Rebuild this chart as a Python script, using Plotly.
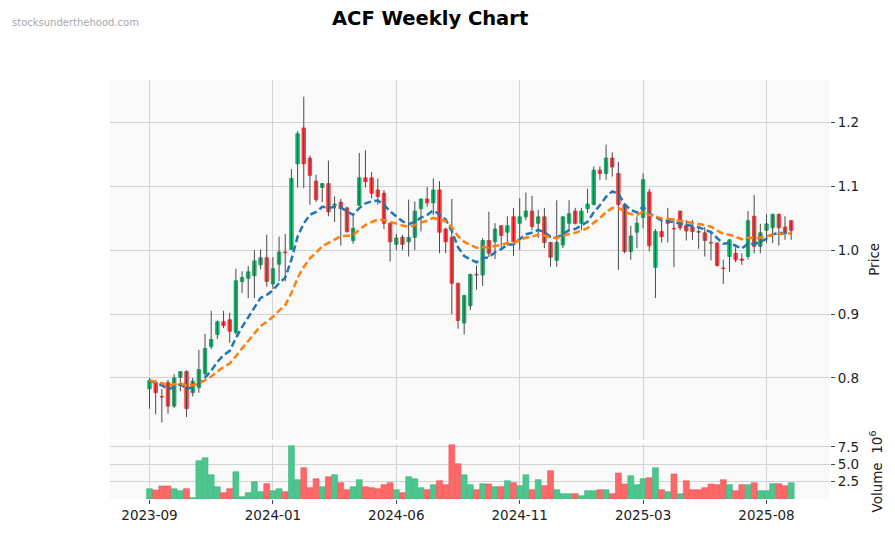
import plotly.graph_objects as go
import pandas as pd

# ---------------- data ----------------
dates = pd.date_range("2023-09-11", periods=105, freq="W-MON")

opens = [0.783, 0.793, 0.771, 0.793, 0.756, 0.801, 0.810, 0.777, 0.785, 0.807,
         0.849, 0.868, 0.888, 0.891, 0.871, 0.951, 0.956, 0.960, 0.977, 0.988,
         0.947, 0.978, 0.997, 1.001, 1.135, 1.191, 1.144, 1.108, 1.098, 1.104,
         1.070, 1.075, 1.066, 1.015, 1.070, 1.113, 1.113, 1.094, 1.089, 1.042,
         1.009, 1.020, 1.013, 1.020, 1.065, 1.080, 1.074, 1.094, 1.033, 1.020,
         0.948, 0.886, 0.913, 0.962, 0.961, 1.015, 1.013, 1.038, 1.028, 1.052,
         1.042, 1.052, 1.061, 1.042, 1.052, 1.012, 0.984, 1.008, 1.042, 1.061,
         1.042, 1.065, 1.071, 1.125, 1.120, 1.144, 1.120, 1.071, 0.998, 1.028,
         1.051, 1.091, 0.973, 1.029, 1.047, 1.034, 1.061, 1.039, 1.036, 1.029,
         1.027, 1.012, 1.011, 0.972, 0.990, 0.995, 0.986, 0.990, 1.053, 1.006,
         1.031, 1.035, 1.056, 1.036, 1.046]
highs = [0.800, 0.797, 0.783, 0.797, 0.806, 0.810, 0.812, 0.800, 0.844, 0.869,
         0.905, 0.890, 0.905, 0.902, 0.971, 0.967, 0.975, 1.000, 1.001, 1.024,
         0.989, 1.021, 1.025, 1.127, 1.186, 1.240, 1.148, 1.118, 1.105, 1.140,
         1.084, 1.080, 1.068, 1.058, 1.152, 1.156, 1.122, 1.112, 1.094, 1.043,
         1.025, 1.024, 1.079, 1.076, 1.080, 1.099, 1.112, 1.108, 1.035, 1.080,
         0.949, 0.929, 0.963, 0.976, 1.019, 1.060, 1.042, 1.039, 1.053, 1.066,
         1.081, 1.090, 1.085, 1.063, 1.066, 1.013, 1.078, 1.053, 1.078, 1.066,
         1.066, 1.096, 1.131, 1.131, 1.165, 1.153, 1.138, 1.073, 1.038, 1.053,
         1.120, 1.096, 1.033, 1.047, 1.066, 1.050, 1.061, 1.047, 1.047, 1.036,
         1.036, 1.027, 1.012, 0.985, 1.017, 1.009, 0.995, 1.061, 1.086, 1.041,
         1.056, 1.057, 1.057, 1.053, 1.047]
lows = [0.752, 0.743, 0.730, 0.744, 0.753, 0.779, 0.739, 0.771, 0.777, 0.803,
        0.845, 0.861, 0.878, 0.855, 0.868, 0.933, 0.925, 0.925, 0.970, 0.943,
        0.939, 0.951, 0.951, 1.001, 1.098, 1.097, 1.071, 1.075, 1.075, 1.053,
        1.044, 1.007, 1.027, 1.010, 1.070, 1.098, 1.081, 1.071, 1.033, 0.982,
        1.000, 1.000, 0.990, 1.000, 1.029, 1.068, 1.055, 0.995, 0.995, 0.900,
        0.877, 0.868, 0.906, 0.938, 0.944, 0.989, 0.986, 1.004, 1.007, 0.991,
        1.000, 1.047, 1.031, 1.019, 1.003, 0.974, 0.974, 1.003, 1.032, 1.040,
        1.031, 1.058, 1.071, 1.110, 1.110, 1.115, 0.969, 0.995, 0.985, 1.003,
        1.034, 0.998, 0.925, 1.012, 1.012, 0.973, 1.031, 1.015, 1.016, 1.002,
        0.990, 0.984, 0.974, 0.947, 0.966, 0.981, 0.977, 0.985, 0.995, 0.995,
        1.011, 1.011, 1.007, 1.016, 1.016]
closes = [0.796, 0.777, 0.770, 0.756, 0.800, 0.810, 0.752, 0.795, 0.813, 0.846,
          0.860, 0.888, 0.882, 0.873, 0.952, 0.957, 0.966, 0.983, 0.988, 0.951,
          0.971, 0.997, 0.996, 1.112, 1.182, 1.135, 1.117, 1.079, 1.104, 1.060,
          1.072, 1.065, 1.029, 1.034, 1.113, 1.107, 1.089, 1.084, 1.042, 1.013,
          1.019, 1.009, 1.020, 1.061, 1.080, 1.074, 1.094, 1.028, 1.013, 0.948,
          0.890, 0.929, 0.962, 0.961, 1.015, 0.995, 1.033, 1.023, 1.038, 1.013,
          1.052, 1.061, 1.037, 1.052, 1.012, 0.989, 1.012, 1.052, 1.057, 1.042,
          1.061, 1.072, 1.125, 1.120, 1.144, 1.130, 1.071, 0.998, 1.022, 1.042,
          1.110, 1.007, 1.029, 1.021, 1.042, 1.033, 1.035, 1.030, 1.029, 1.028,
          1.015, 1.011, 0.976, 0.971, 1.016, 0.985, 0.984, 1.046, 1.006, 1.027,
          1.041, 1.056, 1.035, 1.029, 1.031]
volume_millions = [1.48, 1.29, 1.87, 1.87, 1.48, 1.20, 1.48, 0.19, 5.50, 5.93,
                   3.49, 1.77, 0.91, 1.48, 3.92, 0.33, 0.91, 2.49, 1.05, 2.20,
                   1.20, 1.48, 1.05, 7.66, 2.78, 4.50, 1.63, 2.92, 1.77, 3.20,
                   3.49, 2.34, 1.34, 1.77, 2.78, 1.77, 1.63, 1.48, 2.06, 2.34,
                   1.34, 0.91, 3.20, 2.92, 1.63, 1.34, 2.06, 2.63, 2.06, 7.80,
                   5.07, 3.49, 2.06, 1.34, 2.20, 2.15, 1.77, 1.77, 2.63, 2.34,
                   1.91, 3.49, 1.34, 2.78, 1.91, 4.07, 1.34, 0.77, 0.77, 0.77,
                   0.48, 1.20, 1.20, 1.34, 1.34, 0.77, 3.73, 2.15, 3.35, 2.06,
                   2.92, 3.06, 4.50, 1.34, 1.05, 3.59, 0.77, 2.63, 1.34, 1.34,
                   1.63, 2.15, 2.06, 2.78, 2.06, 1.20, 2.06, 2.06, 2.34, 1.20,
                   1.20, 2.20, 2.20, 1.91, 2.34]

price_ticks = [0.8, 0.9, 1.0, 1.1, 1.2]
volume_ticks = [2.5, 5.0, 7.5]
date_tick_step = 20

# ---------------- derived ----------------
idx = list(range(len(closes)))
ema_fast = pd.Series(closes).ewm(span=10, adjust=False).mean()
ema_slow = pd.Series(closes).ewm(span=20, adjust=False).mean()

tick_idx = idx[::date_tick_step]
tick_text = [dates[i].strftime("%Y-%m") for i in tick_idx]

# ---------------- geometry (page pixels; the html body adds an 8px margin) ----------------
OFF = 8
W, H = 895 - OFF, 533 - OFF
PL, PR, PT, PB = 110, 830, 80, 499.5   # plot area in page pixels


def paper_x(px):
    return (px - PL) / (PR - PL)


def paper_y(py):
    return (PB - py) / (PB - PT)


UP = "#12b46c"
DN = "#ff3b3f"
VUP = "#4dc58e"
VDN = "#ff6868"
GRID = "#d3d3d3"
FONT = "DejaVu Sans"

fig = go.Figure()

# wicks
wx, wy = [], []
for i, (h, l) in enumerate(zip(highs, lows)):
    wx += [i, i, None]
    wy += [l, h, None]
fig.add_trace(go.Scatter(x=wx, y=wy, mode="lines",
                         line=dict(color="#4a4a4a", width=1),
                         xaxis="x", yaxis="y", hoverinfo="skip"))

# bodies
body_col = [UP if c >= o else DN for o, c in zip(opens, closes)]
body_h = [max(abs(c - o), 0.0008) for o, c in zip(opens, closes)]
body_base = [min(o, c) for o, c in zip(opens, closes)]
fig.add_trace(go.Bar(x=idx, y=body_h, base=body_base, width=0.55,
                     marker=dict(color=body_col, line=dict(color=body_col, width=1)),
                     xaxis="x", yaxis="y", hoverinfo="skip"))

# moving averages
fig.add_trace(go.Scatter(x=idx, y=ema_fast, mode="lines",
                         line=dict(color="#1f77b4", width=2.5, dash="7px,3.5px"),
                         xaxis="x", yaxis="y", hoverinfo="skip"))
fig.add_trace(go.Scatter(x=idx, y=ema_slow, mode="lines",
                         line=dict(color="#ff7f0e", width=2.5, dash="7px,3.5px"),
                         xaxis="x", yaxis="y", hoverinfo="skip"))

# volume
vol_col = [VUP] + [VUP if closes[i] >= closes[i - 1] else VDN for i in idx[1:]]
vol_line = ["#35b57a" if c == VUP else "#f05050" for c in vol_col]
fig.add_trace(go.Bar(x=idx, y=volume_millions, width=0.95,
                     marker=dict(color=vol_col, line=dict(color=vol_line, width=0.6)),
                     xaxis="x2", yaxis="y2", hoverinfo="skip"))

xr = [(PL - 149.5) / 6.17, (PR - 149.5) / 6.17]

axis_common = dict(showgrid=True, gridcolor=GRID, gridwidth=1, zeroline=False,
                   showline=False, automargin=False,
                   tickfont=dict(family=FONT, size=13.5, color="#222"),
                   ticks="outside", ticklen=4, tickcolor="#444", tickwidth=1)

vol_bottom = 499.5
vol_top = 444
vol_7p5 = 447.3

fig.update_layout(
    width=W, height=H,
    margin=dict(l=PL - OFF, r=895 - PR, t=PT - OFF, b=533 - PB),
    paper_bgcolor="white", plot_bgcolor="#f9f9f9",
    showlegend=False, barmode="overlay", hovermode=False,
    font=dict(family=FONT, size=13.5, color="#222"),
    xaxis=dict(domain=[0, 1], anchor="y", range=xr, tickvals=tick_idx,
               ticktext=tick_text, showticklabels=False,
               **{k: v for k, v in axis_common.items() if k != "ticks"}),
    yaxis=dict(domain=[paper_y(440), 1], anchor="x", side="right",
               range=[1.2 - (440 - 122.3) / 640, 1.2 + (122.3 - 80) / 640],
               tickvals=price_ticks, ticktext=[f"{v:.1f}" for v in price_ticks],
               **axis_common),
    xaxis2=dict(domain=[0, 1], anchor="y2", range=xr, tickvals=tick_idx,
                ticktext=tick_text, **axis_common),
    yaxis2=dict(domain=[paper_y(vol_bottom), paper_y(vol_top)], anchor="x2", side="right",
                range=[0, 7.5 * (vol_bottom - vol_top) / (vol_bottom - vol_7p5)],
                tickvals=volume_ticks, ticktext=[f"{v:.1f}" for v in volume_ticks],
                **axis_common),
    annotations=[
        dict(text="<b>ACF Weekly Chart</b>", xref="paper", yref="paper",
             x=paper_x(429.5), y=paper_y(18), showarrow=False,
             xanchor="center", yanchor="middle",
             font=dict(family=FONT, size=19.5, color="black")),
        dict(text="stocksunderthehood.com", xref="paper", yref="paper",
             x=paper_x(10), y=paper_y(22), showarrow=False,
             xanchor="left", yanchor="middle",
             font=dict(family=FONT, size=10, color="#a8a8a8")),
        dict(text="Price", xref="paper", yref="paper",
             x=paper_x(874), y=paper_y(260), showarrow=False, textangle=-90,
             xanchor="center", yanchor="middle",
             font=dict(family=FONT, size=13.5, color="#222")),
        dict(text="Volume  10<sup>6</sup>", xref="paper", yref="paper",
             x=paper_x(876), y=paper_y(472), showarrow=False, textangle=-90,
             xanchor="center", yanchor="middle",
             font=dict(family=FONT, size=13.5, color="#222")),
    ],
)

fig.write_html("out.html")
